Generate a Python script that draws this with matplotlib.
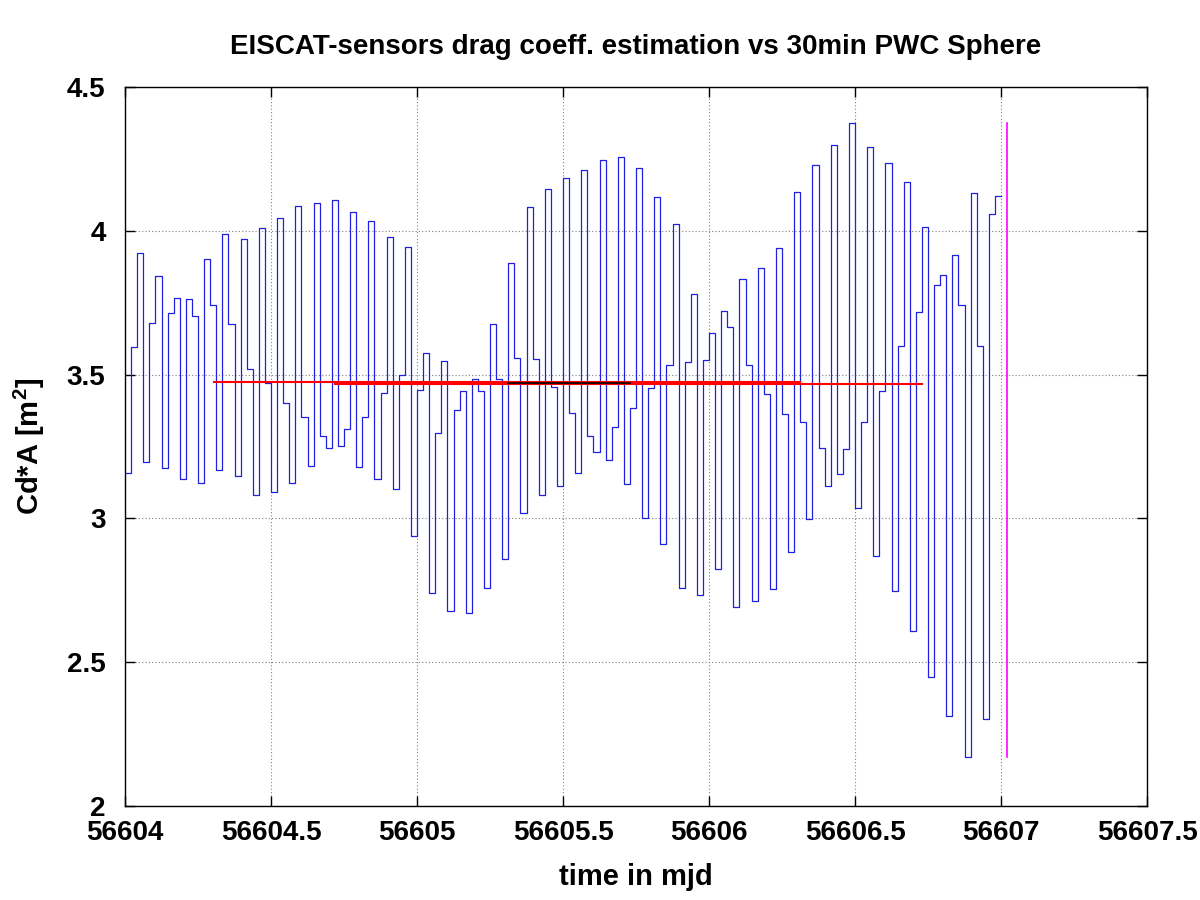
import numpy as np
import matplotlib
matplotlib.use("Agg")
import matplotlib.pyplot as plt

# ---- data ----
t_start = 56604.0
step_days = 1.0 / 48.0  # 30 min piecewise-constant steps
cd_a = [3.157, 3.597, 3.922, 3.195, 3.678, 3.843, 3.174, 3.713, 3.765, 3.137,
        3.762, 3.704, 3.124, 3.902, 3.742, 3.168, 3.988, 3.675, 3.147, 3.973,
        3.519, 3.081, 4.011, 3.470, 3.093, 4.046, 3.402, 3.124, 4.086, 3.351,
        3.183, 4.098, 3.287, 3.246, 4.107, 3.252, 3.310, 4.064, 3.178, 3.351,
        4.035, 3.137, 3.437, 3.977, 3.102, 3.499, 3.945, 2.939, 3.446, 3.574,
        2.739, 3.296, 3.548, 2.678, 3.377, 3.444, 2.670, 3.484, 3.444, 2.757,
        3.675, 3.485, 2.859, 3.889, 3.557, 3.020, 4.084, 3.553, 3.081, 4.144,
        3.458, 3.112, 4.182, 3.365, 3.159, 4.211, 3.288, 3.230, 4.246, 3.203,
        3.317, 4.255, 3.119, 3.385, 4.217, 3.000, 3.452, 4.119, 2.910, 3.533,
        4.023, 2.759, 3.545, 3.779, 2.734, 3.551, 3.645, 2.823, 3.722, 3.664,
        2.691, 3.831, 3.533, 2.713, 3.872, 3.431, 2.753, 3.941, 3.363, 2.884,
        4.134, 3.336, 2.998, 4.229, 3.244, 3.113, 4.298, 3.153, 3.241, 4.375,
        3.035, 3.334, 4.291, 2.871, 3.444, 4.236, 2.749, 3.598, 4.170, 2.610,
        3.718, 4.012, 2.449, 3.811, 3.846, 2.314, 3.916, 3.743, 2.170, 4.132,
        3.598, 2.302, 4.060, 4.122]

# estimation segments: (t_begin, t_end, value)
red_est_1 = (56604.305, 56606.31, 3.474)
red_est_2 = (56604.72, 56606.73, 3.469)
black_est = (56605.31, 56605.73, 3.470)
marker_t = 56607.02

title = "EISCAT-sensors drag coeff. estimation vs 30min PWC Sphere"
xlabel = "time in mjd"
ylabel = r"Cd*A [m$^{\mathbf{2}}$]"
xticks = [56604, 56604.5, 56605, 56605.5, 56606, 56606.5, 56607, 56607.5]
xticklabels = ["56604", "56604.5", "56605", "56605.5", "56606", "56606.5", "56607", "56607.5"]
yticks = [2, 2.5, 3, 3.5, 4, 4.5]
yticklabels = ["2", "2.5", "3", "3.5", "4", "4.5"]

# ---- plot ----
plt.rcParams['font.family'] = ['Liberation Sans', 'DejaVu Sans']
plt.rcParams['font.weight'] = 'bold'
plt.rcParams['mathtext.fontset'] = 'custom'
plt.rcParams['mathtext.rm'] = 'Liberation Sans:bold'
plt.rcParams['mathtext.bf'] = 'Liberation Sans:bold'

fig = plt.figure(figsize=(12, 9), dpi=100)
ax = fig.add_axes([125/1200, 1-806/900, (1147-125)/1200, (806-87)/900])

vals = np.array(cd_a)
n = len(vals)
t = t_start + np.arange(n + 1) * step_days
y = np.append(vals, vals[-1])
ax.plot(t, y, drawstyle='steps-post', color='#2020e0', lw=0.9, zorder=2)

for seg in (red_est_1, red_est_2):
    ax.plot([seg[0], seg[1]], [seg[2], seg[2]], color='red', lw=1.5, zorder=3)
ax.plot([black_est[0], black_est[1]], [black_est[2], black_est[2]], color='black', lw=1.2, zorder=4)
ax.plot([marker_t, marker_t], [vals.min(), vals.max()], color='magenta', lw=1.2, zorder=3)

ax.set_xlim(56604, 56607.5)
ax.set_ylim(2, 4.5)
ax.set_xticks(xticks)
ax.set_xticklabels(xticklabels, fontsize=20, fontweight='bold')
ax.set_yticks(yticks)
ax.set_yticklabels(yticklabels, fontsize=20, fontweight='bold')
ax.tick_params(axis='x', direction='in', length=7, width=1, top=True, pad=10)
ax.tick_params(axis='y', direction='in', length=7, width=1, right=True, pad=14)
ax.grid(True, color='#808080', linestyle=(0, (1, 2)), lw=0.8)
for s in ax.spines.values():
    s.set_linewidth(1.0)

ax.set_title(title, fontsize=20, fontweight='bold', pad=24)
ax.set_xlabel(xlabel, fontsize=21, fontweight='bold', labelpad=12)
ax.set_ylabel(ylabel, fontsize=21, fontweight='bold', labelpad=14)

fig.savefig("out.png", dpi=100)
